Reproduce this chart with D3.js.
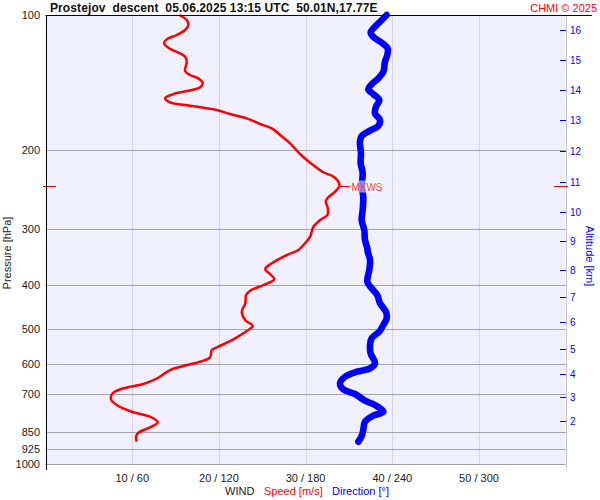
<!DOCTYPE html>
<html><head><meta charset="utf-8">
<script src="https://cdn.jsdelivr.net/npm/d3@7"></script>
<style>body{margin:0;background:#fff}svg{display:block;font-family:"Liberation Sans",Arial,sans-serif}</style>
</head><body><svg id="c" width="600" height="500"></svg>
<script>
// ---- data ----
const pressureTicks = [100, 200, 300, 400, 500, 600, 700, 850, 925, 1000];
const speedTicks = [10, 20, 30, 40, 50];
const dirTicks = [60, 120, 180, 240, 300];
const altKm = [2, 3, 4, 5, 6, 7, 8, 9, 10, 11, 12, 13, 14, 15, 16];
const altPressure = [803.3, 709.3, 630.4, 553.6, 482.8, 424.1, 369.2, 319.2, 274.6, 235.8, 201.2, 171.6, 147.2, 126.2, 108.0];
const speedPressure = [100, 102.6, 105.3, 108.0, 110.8, 113.3, 115.6, 118.3, 121.3, 123.8, 127.1, 133.3, 136.0, 138.4, 142.0, 144.9, 147.5, 150.0, 153.3, 156.5, 159.2, 162.8, 166.2, 169.9, 174.9, 178.8, 185.0, 193.1, 204.0, 213.3, 224.0, 229.1, 235.1, 240.3, 247.5, 256.0, 260.5, 269.5, 278.9, 286.2, 296.2, 311.7, 325.3, 333.8, 342.4, 357.3, 368.0, 377.5, 387.9, 399.4, 411.2, 420.4, 438.6, 457.9, 477.9, 492.8, 505.6, 527.6, 548.0, 557.4, 578.7, 591.9, 605.0, 617.6, 642.5, 663.5, 678.3, 695.9, 717.6, 739.0, 764.8, 784.7, 807.5, 825.9, 851.8, 869.5, 892.0];
const speedValues = [15.44, 16.29, 16.48, 16.10, 15.14, 13.98, 13.67, 14.17, 15.32, 16.10, 16.29, 16.10, 16.67, 17.63, 18.14, 17.83, 16.48, 14.75, 13.79, 14.36, 16.67, 19.75, 21.29, 23.21, 24.75, 26.10, 27.06, 28.21, 29.36, 30.52, 32.05, 33.21, 33.78, 33.90, 33.40, 32.51, 32.33, 32.56, 32.51, 31.67, 30.90, 30.52, 29.75, 29.17, 27.83, 26.10, 25.33, 25.90, 26.40, 25.13, 23.60, 23.13, 23.05, 22.64, 23.02, 23.91, 23.21, 21.67, 19.94, 19.18, 18.98, 17.83, 15.90, 14.36, 13.01, 11.28, 8.98, 7.75, 7.56, 8.22, 9.95, 12.06, 12.95, 12.25, 10.71, 10.44, 10.52];
const dirPressure = [100, 102.6, 106.2, 109.3, 111.8, 115.3, 118.6, 122.8, 127.1, 133.8, 138.4, 142.7, 146.4, 150.0, 154.7, 160.1, 165.6, 171.4, 176.7, 181.0, 186.0, 191.5, 203.2, 213.9, 225.2, 241.2, 253.9, 271.8, 286.2, 301.3, 317.1, 330.9, 336.7, 351.3, 369.7, 392.6, 406.2, 420.4, 438.6, 457.9, 473.7, 490.2, 507.4, 524.8, 543.3, 567.0, 596.8, 612.3, 623.0, 639.2, 661.3, 681.8, 698.5, 722.8, 739.0, 764.8, 780.6, 805.1, 840.3, 866.3, 892.0];
const dirValues = [236.1, 232.7, 228.0, 225.0, 226.8, 232.7, 236.8, 236.5, 234.9, 233.8, 230.3, 225.7, 223.4, 226.8, 231.0, 228.7, 228.0, 231.5, 230.3, 224.6, 218.8, 217.6, 218.3, 218.1, 219.5, 218.8, 219.9, 219.5, 218.8, 220.6, 221.1, 222.7, 223.0, 224.6, 224.1, 222.7, 225.7, 229.6, 231.5, 235.6, 236.1, 233.8, 231.0, 225.7, 224.6, 225.0, 228.0, 224.6, 215.4, 207.3, 203.8, 206.1, 214.2, 221.1, 228.0, 233.8, 226.8, 221.1, 219.9, 218.8, 216.5];

// ---- layout ----
const svg = d3.select("#c");
const L = 45.5, R = 565.7, T = 15, B = 464;
const y = d3.scaleLog().domain([100, 1000]).range([T, B]);
const xs = d3.scaleLinear().domain([0, 60]).range([L, R]);
const xd = d3.scaleLinear().domain([0, 360]).range([L, R]);
const px = v => Math.round(v) + 0.5;

svg.append("rect").attr("x", L).attr("y", T).attr("width", R - L).attr("height", B - T + 1).attr("fill", "#f0f0fe");

// vertical grid
svg.append("g").selectAll("line").data(speedTicks).join("line")
  .attr("x1", d => px(xs(d))).attr("x2", d => px(xs(d)))
  .attr("y1", T).attr("y2", B + 1).attr("stroke", "#d6d6dc").attr("stroke-width", 1);
svg.append("line").attr("x1", px(R)).attr("x2", px(R)).attr("y1", T).attr("y2", 470)
  .attr("stroke", "#c8c8d0");

// horizontal grid
svg.append("g").selectAll("line").data(pressureTicks.slice(1)).join("line")
  .attr("x1", L).attr("x2", R).attr("y1", d => px(y(d))).attr("y2", d => px(y(d)))
  .attr("stroke", "#a4a4a8").attr("stroke-width", 1);

// curves
const spd = speedPressure.map((p, i) => [speedValues[i], p]);
const dir = dirPressure.map((p, i) => [dirValues[i], p]);
svg.append("path").datum(dir)
  .attr("d", d3.line().x(d => xd(d[0])).y(d => y(d[1])).curve(d3.curveCatmullRom))
  .attr("fill", "none").attr("stroke", "#0000ff").attr("stroke-width", 6.6)
  .attr("stroke-linecap", "round").attr("stroke-linejoin", "round");
svg.append("path").datum(spd)
  .attr("d", d3.line().x(d => xs(d[0])).y(d => y(d[1])).curve(d3.curveCatmullRom))
  .attr("fill", "none").attr("stroke", "#ff0000").attr("stroke-width", 2.5)
  .attr("stroke-linejoin", "round");

// max wind
const iMax = d3.maxIndex(speedValues);
const yM = px(y(speedPressure[iMax])), xM = xs(speedValues[iMax]);
svg.append("line").attr("x1", 43).attr("x2", 56).attr("y1", yM).attr("y2", yM).attr("stroke", "#ff0000");
svg.append("line").attr("x1", 554).attr("x2", 568).attr("y1", yM).attr("y2", yM).attr("stroke", "#ff0000");
svg.append("line").attr("x1", xM).attr("x2", xM + 11).attr("y1", yM).attr("y2", yM).attr("stroke", "#ff0000");
svg.append("rect").attr("x", xM + 11).attr("y", yM - 6).attr("width", 31).attr("height", 12).attr("fill", "#ffffff").attr("opacity", 0.55);
svg.append("text").attr("x", xM + 12).attr("y", yM + 4).attr("font-size", 10).attr("fill", "#ff3838").text("MXWS");

// axes lines
svg.append("line").attr("x1", px(L)).attr("x2", px(L)).attr("y1", T).attr("y2", 470).attr("stroke", "#000");
svg.append("line").attr("x1", L).attr("x2", 592).attr("y1", px(T)).attr("y2", px(T)).attr("stroke", "#000");

// pressure labels
svg.append("g").selectAll("text").data(pressureTicks).join("text")
  .attr("x", 40).attr("y", d => y(d) + 4).attr("text-anchor", "end")
  .attr("font-size", 11).attr("fill", "#222").text(d => d);
svg.append("text").attr("transform", "translate(11,253) rotate(-90)").attr("text-anchor", "middle")
  .attr("font-size", 11).attr("fill", "#222").text("Pressure [hPa]");

// altitude axis
const ga = svg.append("g");
ga.selectAll("line").data(altPressure).join("line")
  .attr("x1", 560).attr("x2", 566).attr("y1", d => px(y(d))).attr("y2", d => px(y(d)))
  .attr("stroke", "#0000ff");
ga.selectAll("text").data(altKm).join("text")
  .attr("x", 570).attr("y", (d, i) => y(altPressure[i]) + 4)
  .attr("font-size", 10).attr("fill", "#0000ff").text(d => d);
svg.append("text").attr("transform", "translate(586,256) rotate(90)").attr("text-anchor", "middle")
  .attr("font-size", 11).attr("fill", "#0000ff").text("Altitude [km]");

// bottom labels
svg.append("g").selectAll("text").data(speedTicks).join("text")
  .attr("x", d => xs(d)).attr("y", 482).attr("text-anchor", "middle")
  .attr("font-size", 11).attr("fill", "#222").text((d, i) => d + " / " + dirTicks[i]);
svg.append("line").attr("x1", px(R)).attr("x2", px(R)).attr("y1", 465).attr("y2", 470).attr("stroke", "#c8c8d0");

svg.append("text").attr("x", 225).attr("y", 495).attr("font-size", 11).attr("fill", "#222").text("WIND");
svg.append("text").attr("x", 264).attr("y", 495).attr("font-size", 11).attr("fill", "#ff0000").text("Speed [m/s]");
svg.append("text").attr("x", 332).attr("y", 495).attr("font-size", 11).attr("fill", "#0000ff").text("Direction [°]");

// title
svg.append("text").attr("x", 50).attr("y", 12).attr("font-size", 12).attr("font-weight", "bold")
  .attr("fill", "#111").attr("letter-spacing", 0.1).style("white-space", "pre").text("Prostejov  descent  05.06.2025 13:15 UTC  50.01N,17.77E");
svg.append("text").attr("x", 597).attr("y", 12).attr("text-anchor", "end").attr("font-size", 11)
  .attr("fill", "#ff0000").text("CHMI © 2025");
</script></body></html>
